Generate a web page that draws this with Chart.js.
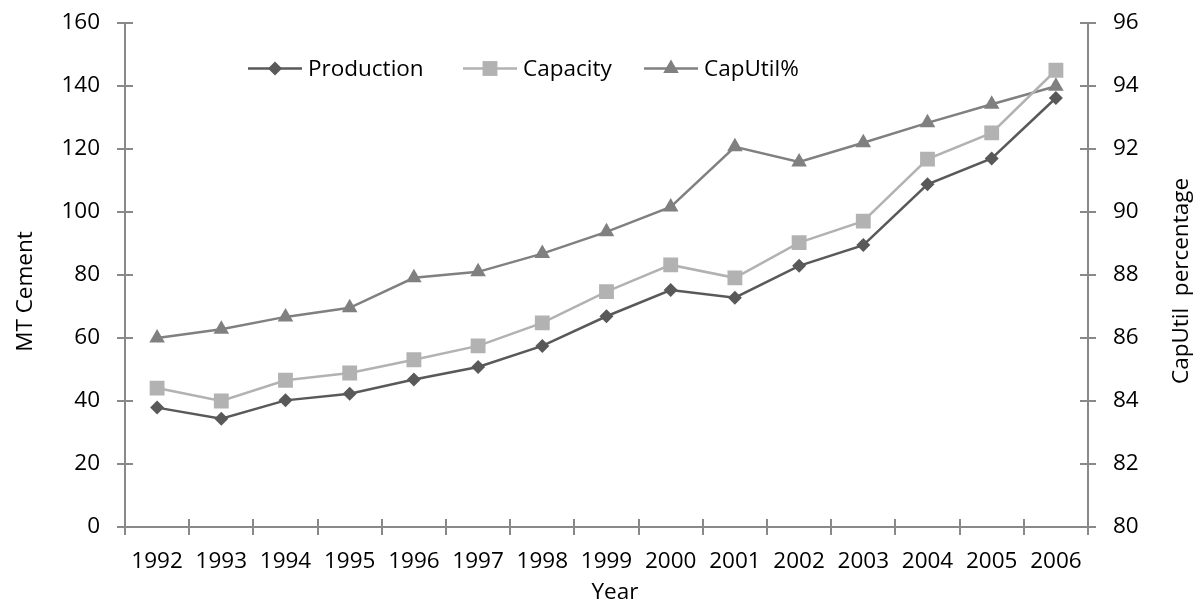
<!DOCTYPE html>
<html>
<head>
<meta charset="utf-8">
<script src="https://cdn.jsdelivr.net/npm/chart.js"></script>
<style>
  html, body { margin: 0; padding: 0; background: #ffffff; }
  #wrap { width: 1201px; height: 604px; }
</style>
</head>
<body>
<div id="wrap"><canvas id="c" width="1201" height="604"></canvas></div>
<script>
// ---- data ----
const years = ['1992','1993','1994','1995','1996','1997','1998','1999','2000','2001','2002','2003','2004','2005','2006'];
const production = [37.9, 34.4, 40.2, 42.3, 46.8, 50.8, 57.5, 66.9, 75.2, 72.8, 82.9, 89.5, 108.8, 117.0, 136.2];
const capacity   = [44.1, 40.0, 46.6, 48.9, 53.1, 57.5, 64.8, 74.7, 83.2, 79.1, 90.3, 97.1, 116.8, 125.1, 145.0];
const capUtil    = [86.0, 86.28, 86.67, 86.96, 87.91, 88.10, 88.68, 89.37, 90.16, 92.07, 91.59, 92.2, 92.83, 93.42, 93.99];
const leftTicks  = [0, 20, 40, 60, 80, 100, 120, 140, 160];
const rightTicks = [80, 82, 84, 86, 88, 90, 92, 94, 96];
const seriesNames = ['Production', 'Capacity', 'CapUtil%'];
const axisTitles = { left: 'MT Cement', right: 'CapUtil  percentage', bottom: 'Year' };

// ---- styles ----
const FONT = '"Open Sans", "Liberation Sans", sans-serif';
const FSIZE = 22.5;
const AXIS = '#898989';
const C_PROD = '#595959', C_CAP = '#b2b2b2', C_UTIL = '#808080';

function drawMarker(ctx, style, x, y, r, color) {
  ctx.fillStyle = color;
  ctx.beginPath();
  if (style === 'rectRot') {
    ctx.moveTo(x, y - r); ctx.lineTo(x + r, y); ctx.lineTo(x, y + r); ctx.lineTo(x - r, y);
  } else if (style === 'rect') {
    const s = r * Math.SQRT1_2; ctx.rect(x - s, y - s, 2 * s, 2 * s);
  } else if (style === 'triangle') {
    let a = 0;
    ctx.moveTo(x + Math.sin(a) * r, y - Math.cos(a) * r);
    a += 2 * Math.PI / 3; ctx.lineTo(x + Math.sin(a) * r, y - Math.cos(a) * r);
    a += 2 * Math.PI / 3; ctx.lineTo(x + Math.sin(a) * r, y - Math.cos(a) * r);
  }
  ctx.closePath();
  ctx.fill();
}

const overlay = {
  id: 'overlay',
  afterDraw(chart) {
    const ctx = chart.ctx;
    const a = chart.chartArea;
    const xs = chart.scales.x, ys = chart.scales.y, ys1 = chart.scales.y1;
    ctx.save();
    // inward halves of the crossing tick marks
    ctx.strokeStyle = AXIS; ctx.lineWidth = 2;
    ctx.beginPath();
    ys.ticks.forEach(t => { const p = Math.round(ys.getPixelForValue(t.value)); ctx.moveTo(a.left, p); ctx.lineTo(a.left + 8, p); });
    ys1.ticks.forEach(t => { const p = Math.round(ys1.getPixelForValue(t.value)); ctx.moveTo(a.right - 8, p); ctx.lineTo(a.right, p); });
    const n = years.length;
    for (let i = 0; i <= n; i++) {
      let px;
      if (i === 0) px = xs.getPixelForValue(0) - (xs.getPixelForValue(1) - xs.getPixelForValue(0)) / 2;
      else if (i === n) px = xs.getPixelForValue(n - 1) + (xs.getPixelForValue(n - 1) - xs.getPixelForValue(n - 2)) / 2;
      else px = (xs.getPixelForValue(i - 1) + xs.getPixelForValue(i)) / 2;
      px = Math.round(px);
      ctx.moveTo(px, a.bottom - 8); ctx.lineTo(px, a.bottom);
    }
    ctx.stroke();

    // axis titles
    ctx.fillStyle = '#000000';
    ctx.font = FSIZE + 'px ' + FONT;
    ctx.textAlign = 'center'; ctx.textBaseline = 'middle';
    ctx.fillText(axisTitles.bottom, 615, 593);
    ctx.save(); ctx.translate(25.5, 291.5); ctx.rotate(-Math.PI / 2); ctx.fillText(axisTitles.left, 0, 0); ctx.restore();
    ctx.save(); ctx.translate(1182, 281); ctx.rotate(-Math.PI / 2); ctx.fillText(axisTitles.right, 0, 0); ctx.restore();

    // legend (line + marker + label) for each dataset
    const starts = [248, 463, 644];
    const ly = 68.5;
    chart.data.datasets.forEach((ds, i) => {
      const x0 = starts[i];
      ctx.strokeStyle = ds.borderColor; ctx.lineWidth = ds.borderWidth;
      ctx.beginPath(); ctx.moveTo(x0, ly); ctx.lineTo(x0 + 54, ly); ctx.stroke();
      drawMarker(ctx, ds.pointStyle, x0 + 27, ly, ds.legendRadius, ds.pointBackgroundColor);
      ctx.fillStyle = '#000000'; ctx.textAlign = 'left'; ctx.textBaseline = 'middle';
      ctx.fillText(ds.label, x0 + 60, ly + 1);
    });
    ctx.restore();
  }
};

function fixVertical(s, w) { s.width = w; s.paddingTop = 0; s.paddingBottom = 0; }

new Chart(document.getElementById('c'), {
  type: 'line',
  data: {
    labels: years,
    datasets: [
      { label: seriesNames[0], data: production, yAxisID: 'y', borderColor: C_PROD, backgroundColor: C_PROD,
        pointBackgroundColor: C_PROD, pointBorderColor: C_PROD, borderWidth: 2.5, pointStyle: 'rectRot',
        pointRadius: 7, pointBorderWidth: 0, tension: 0, legendRadius: 7 },
      { label: seriesNames[1], data: capacity, yAxisID: 'y', borderColor: C_CAP, backgroundColor: C_CAP,
        pointBackgroundColor: C_CAP, pointBorderColor: C_CAP, borderWidth: 2.5, pointStyle: 'rect',
        pointRadius: 10.5, pointBorderWidth: 0, tension: 0, legendRadius: 10.5 },
      { label: seriesNames[2], data: capUtil, yAxisID: 'y1', borderColor: C_UTIL, backgroundColor: C_UTIL,
        pointBackgroundColor: C_UTIL, pointBorderColor: C_UTIL, borderWidth: 2.5, pointStyle: 'triangle',
        pointRadius: 9, pointBorderWidth: 0, tension: 0, legendRadius: 9 }
    ]
  },
  options: {
    responsive: false,
    animation: false,
    devicePixelRatio: 1,
    layout: { padding: { top: 23, left: 0, right: 0, bottom: 0 } },
    plugins: { legend: { display: false }, tooltip: { enabled: false } },
    scales: {
      x: {
        type: 'category',
        offset: true,
        grid: { offset: true, drawOnChartArea: false, drawTicks: true, tickLength: 8, color: AXIS, lineWidth: 2 },
        border: { color: AXIS, width: 2 },
        ticks: { color: '#000000', font: { family: FONT, size: FSIZE }, padding: 13, maxRotation: 0, autoSkip: false },
        afterFit(s) { s.height = 77; s.paddingLeft = 0; s.paddingRight = 0; }
      },
      y: {
        position: 'left', min: 0, max: 160,
        afterBuildTicks(s) { s.ticks = leftTicks.map(v => ({ value: v })); },
        grid: { drawOnChartArea: false, drawTicks: true, tickLength: 8, color: AXIS, lineWidth: 2 },
        border: { color: AXIS, width: 2 },
        ticks: { color: '#000000', font: { family: FONT, size: FSIZE }, padding: 17 },
        afterFit(s) { fixVertical(s, 125); }
      },
      y1: {
        position: 'right', min: 80, max: 96,
        afterBuildTicks(s) { s.ticks = rightTicks.map(v => ({ value: v })); },
        grid: { drawOnChartArea: false, drawTicks: true, tickLength: 8, color: AXIS, lineWidth: 2 },
        border: { color: AXIS, width: 2 },
        ticks: { color: '#000000', font: { family: FONT, size: FSIZE }, padding: 17 },
        afterFit(s) { fixVertical(s, 113); }
      }
    }
  },
  plugins: [overlay]
});
</script>
</body>
</html>
